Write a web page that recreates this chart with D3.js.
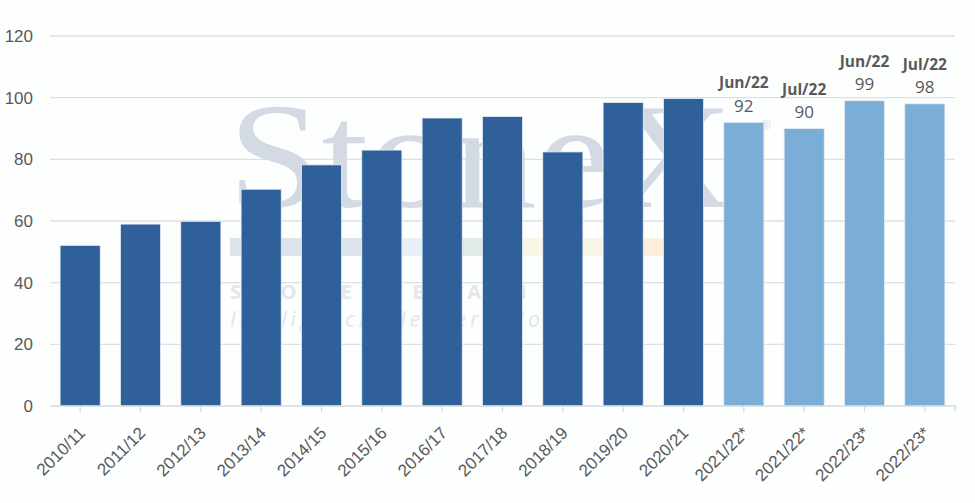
<!DOCTYPE html>
<html>
<head>
<meta charset="utf-8">
<script src="https://cdn.jsdelivr.net/npm/d3@7"></script>
<style>
  body { margin: 0; background: #fdfefe; }
  svg { display: block; font-family: "Open Sans", "Noto Sans", sans-serif; }
</style>
</head>
<body>
<div id="vis"></div>
<script>
// chart data
const SEASONS = ["2010/11", "2011/12", "2012/13", "2013/14", "2014/15", "2015/16",
                 "2016/17", "2017/18", "2018/19", "2019/20", "2020/21",
                 "2021/22*", "2021/22*", "2022/23*", "2022/23*"];
const VALUES = [52.1, 59.0, 59.9, 70.3, 78.2, 83.0, 93.4, 93.9, 82.4, 98.4, 99.7,
                92, 90, 99, 98];
const FORECAST = [false, false, false, false, false, false, false, false, false, false, false,
                  true, true, true, true];
const FORECAST_LABELS = ["", "", "", "", "", "", "", "", "", "", "",
                         "Jun/22", "Jul/22", "Jun/22", "Jul/22"];
const Y_TICKS = [0, 20, 40, 60, 80, 100, 120];

const FRAME_WIDTH = 975;
const FRAME_HEIGHT = 503;
const MARGINS = {left: 50, right: 20, top: 36, bottom: 97};

const DARK = "#30609a";
const LIGHT = "#7aaed7";

const FRAME = d3.select("#vis")
                .append("svg")
                  .attr("width", FRAME_WIDTH)
                  .attr("height", FRAME_HEIGHT);

// index as key, since seasons repeat
const X_SCALE = d3.scaleBand()
                  .domain(d3.range(SEASONS.length))
                  .range([MARGINS.left, FRAME_WIDTH - MARGINS.right])
                  .paddingInner(0.335)
                  .paddingOuter(0.1675);

const Y_SCALE = d3.scaleLinear()
                  .domain([0, 120])
                  .range([FRAME_HEIGHT - MARGINS.bottom, MARGINS.top]);

// gridlines
FRAME.append("g")
  .selectAll("line")
  .data(Y_TICKS.filter((d) => d > 0))
  .enter()
  .append("line")
    .attr("x1", MARGINS.left)
    .attr("x2", FRAME_WIDTH - MARGINS.right)
    .attr("y1", (d) => Y_SCALE(d))
    .attr("y2", (d) => Y_SCALE(d))
    .attr("stroke", "#dcdfe3")
    .attr("stroke-width", 1.3);

// faint watermark behind the bars
const WM = FRAME.append("g").attr("class", "watermark");
WM.append("text")
  .attr("x", 228).attr("y", 207)
  .attr("font-family", "'Liberation Serif', 'DejaVu Serif', serif")
  .attr("font-size", 150)
  .attr("textLength", 505)
  .attr("lengthAdjust", "spacingAndGlyphs")
  .attr("fill", "#d3dae4")
  .text("StoneX");
WM.append("text")
  .attr("x", 760).attr("y", 130)
  .attr("font-size", 13)
  .attr("fill", "#d3dae4")
  .text("®");
const STRIP = [["#dde3eb", 230, 392], ["#e8eef6", 392, 447], ["#e0ebe6", 447, 510],
               ["#f8f6e6", 510, 634], ["#fcefdc", 634, 671], ["#f6e0e0", 671, 692]];
WM.selectAll("rect")
  .data(STRIP)
  .enter()
  .append("rect")
    .attr("x", (d) => d[1])
    .attr("width", (d) => d[2] - d[1])
    .attr("y", 238)
    .attr("height", 18)
    .attr("fill", (d) => d[0]);
WM.append("text")
  .attr("x", 230).attr("y", 299)
  .attr("font-size", 20).attr("font-weight", "bold")
  .attr("letter-spacing", 14)
  .attr("fill", "#e3e6ea")
  .text("STONEX BRASIL");
WM.append("text")
  .attr("x", 230).attr("y", 327)
  .attr("font-size", 21).attr("font-style", "italic")
  .attr("letter-spacing", 4)
  .attr("fill", "#e3e6ea")
  .text("Inteligência de mercado");

// bars
FRAME.append("g")
  .selectAll("rect")
  .data(VALUES)
  .enter()
  .append("rect")
    .attr("x", (d, i) => X_SCALE(i))
    .attr("width", X_SCALE.bandwidth())
    .attr("y", (d) => Y_SCALE(d))
    .attr("height", (d) => Y_SCALE(0) - Y_SCALE(d))
    .attr("fill", (d, i) => FORECAST[i] ? LIGHT : DARK)
    .attr("stroke", "#e8eef5")
    .attr("stroke-width", 0.8);

// x axis
const X_AXIS = FRAME.append("g")
  .attr("transform", "translate(0," + Y_SCALE(0) + ")")
  .call(d3.axisBottom(X_SCALE).tickSize(6).tickSizeOuter(0)
          .tickFormat((i) => SEASONS[i]));
X_AXIS.select(".domain").attr("stroke", "#d9d9d9").attr("stroke-width", 1.5)
  .attr("d", "M" + MARGINS.left + ",0H" + (FRAME_WIDTH - MARGINS.right) + "V5");
X_AXIS.selectAll(".tick line").attr("stroke", "#d9d9d9").attr("stroke-width", 1.3);
X_AXIS.selectAll(".tick text")
  .attr("font-size", 17)
  .attr("fill", "#595959")
  .attr("text-anchor", "end")
  .attr("x", 0)
  .attr("y", 0)
  .attr("dy", 0)
  .attr("transform", "translate(6,28) rotate(-45)");

// y axis
const Y_AXIS = FRAME.append("g")
  .attr("transform", "translate(" + MARGINS.left + ",0)")
  .call(d3.axisLeft(Y_SCALE).tickValues(Y_TICKS).tickSize(0));
Y_AXIS.select(".domain").remove();
Y_AXIS.selectAll(".tick text")
  .attr("x", -17)
  .attr("font-size", 17)
  .attr("fill", "#595959");

// forecast labels
const LABELS = FRAME.append("g")
  .selectAll("g")
  .data(VALUES.map((v, i) => ({v: v, i: i})).filter((d) => FORECAST[d.i]))
  .enter()
  .append("g");
LABELS.append("text")
  .attr("x", (d) => X_SCALE(d.i) + X_SCALE.bandwidth() / 2)
  .attr("y", (d) => Y_SCALE(d.v) - 10.5)
  .attr("text-anchor", "middle")
  .attr("font-size", 17)
  .attr("fill", "#595959")
  .text((d) => d3.format("d")(d.v));
LABELS.append("text")
  .attr("x", (d) => X_SCALE(d.i) + X_SCALE.bandwidth() / 2)
  .attr("y", (d) => Y_SCALE(d.v) - 34)
  .attr("text-anchor", "middle")
  .attr("font-size", 15.5)
  .attr("font-weight", "bold")
  .attr("fill", "#595959")
  .text((d) => FORECAST_LABELS[d.i]);
</script>
</body>
</html>
